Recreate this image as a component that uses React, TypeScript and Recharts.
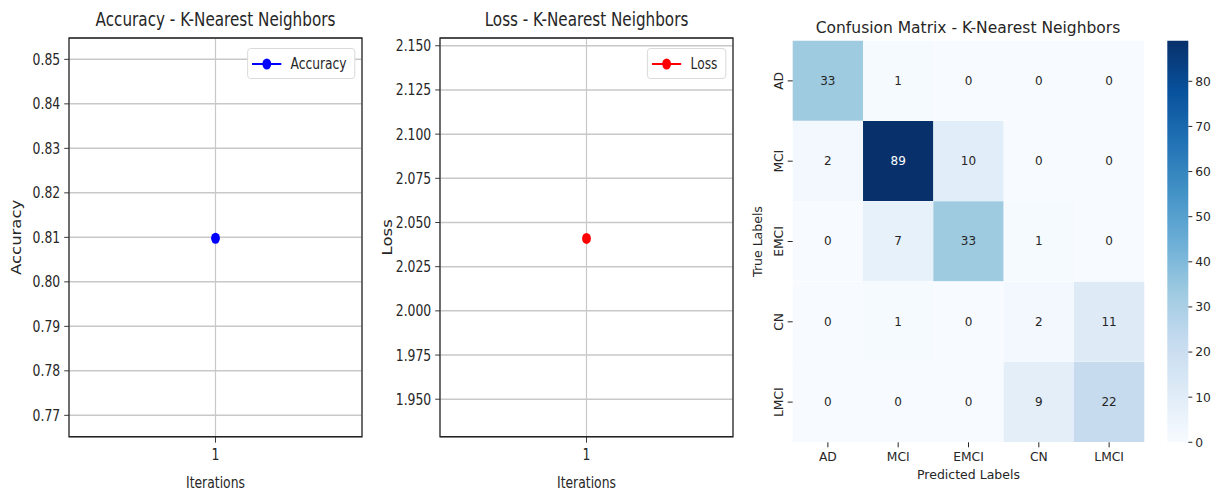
import React from 'react';
import {
    LineChart,
    Line,
    XAxis,
    YAxis,
    CartesianGrid,
    ReferenceArea,
    Legend,
    BarChart,
    Bar,
    Cell,
    LabelList,
} from 'recharts';

// ---- data ----
const iterations = [1];
const accuracyValues = [0.8098];
const lossValues = [2.041];
const accuracyTicks = [0.77, 0.78, 0.79, 0.8, 0.81, 0.82, 0.83, 0.84, 0.85];
const lossTicks = [1.95, 1.975, 2.0, 2.025, 2.05, 2.075, 2.1, 2.125, 2.15];
const accuracyDomain = [0.7652, 0.8548];
const lossDomain = [1.9288, 2.1544];
const iterationDomain = [0.945, 1.055];

const trueLabels = ['AD', 'MCI', 'EMCI', 'CN', 'LMCI'];
const predictedLabels = ['AD', 'MCI', 'EMCI', 'CN', 'LMCI'];
const confusionMatrix = [
    [33, 1, 0, 0, 0],
    [2, 89, 10, 0, 0],
    [0, 7, 33, 1, 0],
    [0, 1, 0, 2, 11],
    [0, 0, 0, 9, 22],
];
const colorbarTicks = [0, 10, 20, 30, 40, 50, 60, 70, 80];

// matplotlib "Blues"
const BLUES = ['#f7fbff', '#deebf7', '#c6dbef', '#9ecae1', '#6baed6', '#4292c6', '#2171b5', '#08519c', '#08306b'];

const hexToRgb = (h: string) => [1, 3, 5].map((i) => parseInt(h.slice(i, i + 2), 16));

const blues = (t: number) => {
    const c = Math.max(0, Math.min(1, t)) * (BLUES.length - 1);
    const lo = Math.min(Math.floor(c), BLUES.length - 2);
    const f = c - lo;
    const a = hexToRgb(BLUES[lo]);
    const b = hexToRgb(BLUES[lo + 1]);
    const rgb = a.map((v, k) => Math.round(v + (b[k] - v) * f));
    return `rgb(${rgb[0]},${rgb[1]},${rgb[2]})`;
};

const TEXT = '#262626';

// the two metric plots are horizontally squeezed in the source image
const SQUEEZE = 0.8;
const PANEL_W = 462.5;
const PANEL_H = 490;
const PLOT_LEFT = 86.25;
const PLOT_RIGHT_GAP = 10;

const LegendBox = ({ payload }: { payload?: Array<{ value: string; color: string }> }) => {
    const item = payload && payload[0];
    if (!item) return null;
    return (
        <div
            style={{
                boxSizing: 'border-box',
                height: 31,
                display: 'flex',
                alignItems: 'center',
                padding: '0 10px 0 5px',
                border: '1px solid #d6d6d6',
                borderRadius: 4,
                background: '#fff',
            }}
        >
            <svg width={37} height={14}>
                <line x1={0} y1={7} x2={37} y2={7} stroke={item.color} strokeWidth={2} />
                <circle cx={18.5} cy={7} r={5.5} fill={item.color} />
            </svg>
            <span style={{ marginLeft: 11.5, fontSize: 15.3, color: TEXT, whiteSpace: 'nowrap' }}>{item.value}</span>
        </div>
    );
};

interface MetricPanelProps {
    left: number;
    title: string;
    name: string;
    values: number[];
    ticks: number[];
    domain: number[];
    digits: number;
    color: string;
}

function MetricPanel({ left, title, name, values, ticks, domain, digits, color }: MetricPanelProps) {
    const data = iterations.map((it, i) => ({ iter: it, value: values[i] }));
    const plotW = PANEL_W - PLOT_LEFT - PLOT_RIGHT_GAP;
    const tickStyle = { fill: TEXT, fontSize: 15.5 };

    return (
        <div
            style={{
                position: 'absolute',
                left,
                top: 0,
                width: PANEL_W,
                height: PANEL_H,
                transform: `scaleX(${SQUEEZE})`,
                transformOrigin: '0 0',
            }}
        >
            <div
                style={{
                    position: 'absolute',
                    left: PLOT_LEFT,
                    width: plotW,
                    top: 10,
                    textAlign: 'center',
                    fontSize: 19,
                    lineHeight: '19px',
                    color: TEXT,
                    whiteSpace: 'nowrap',
                }}
            >
                {title}
            </div>
            <LineChart
                width={PANEL_W}
                height={PANEL_H}
                data={data}
                margin={{ top: 38, right: PLOT_RIGHT_GAP, bottom: 0, left: 0 }}
            >
                <CartesianGrid stroke="#c8c8c8" strokeWidth={1.5} />
                <XAxis
                    dataKey="iter"
                    type="number"
                    domain={iterationDomain}
                    ticks={iterations}
                    height={53.3}
                    axisLine={false}
                    tickSize={6}
                    tickMargin={6}
                    tick={tickStyle}
                    tickLine={{ stroke: TEXT }}
                    label={{ value: 'Iterations', position: 'insideBottom', offset: 2, fill: TEXT, fontSize: 15.5 }}
                />
                <YAxis
                    type="number"
                    domain={domain}
                    ticks={ticks}
                    width={PLOT_LEFT}
                    axisLine={false}
                    tickSize={6}
                    tickMargin={5}
                    tick={tickStyle}
                    tickLine={{ stroke: TEXT }}
                    tickFormatter={(v: number) => v.toFixed(digits)}
                    label={{
                        value: name,
                        angle: -90,
                        position: 'insideLeft',
                        offset: 21,
                        textAnchor: 'middle',
                        fill: TEXT,
                        fontSize: 16.5,
                    }}
                />
                <ReferenceArea
                    x1={iterationDomain[0]}
                    x2={iterationDomain[1]}
                    y1={domain[0]}
                    y2={domain[1]}
                    fill="none"
                    fillOpacity={0}
                    stroke="#222"
                    strokeWidth={1.5}
                    ifOverflow="visible"
                />
                <Legend
                    layout="horizontal"
                    align="center"
                    verticalAlign="middle"
                    wrapperStyle={{ top: 48, right: 18.5, left: 'auto', width: 'auto' }}
                    content={(props: any) => <LegendBox payload={props.payload} />}
                />
                <Line
                    dataKey="value"
                    name={name}
                    stroke={color}
                    strokeWidth={2}
                    dot={{ r: 5.5, fill: color, stroke: color, strokeWidth: 0 }}
                    isAnimationActive={false}
                />
            </LineChart>
        </div>
    );
}

const vmax = Math.max(...confusionMatrix.flat());

const cellRows = trueLabels.map((label, i) => {
    const row: Record<string, string | number> = { name: label };
    predictedLabels.forEach((_, j) => {
        row[`u${j}`] = 1;
        row[`c${j}`] = confusionMatrix[i][j];
    });
    return row;
});

const colorbarData = [{ name: 'count', value: vmax }];

const renderCellLabel = (props: any) => {
    const vb = props.viewBox || props;
    const { x, y, width, height } = vb;
    const value = Number(props.value);
    return (
        <text
            x={x + width / 2}
            y={y + height / 2}
            textAnchor="middle"
            dominantBaseline="central"
            fontSize={12}
            fill={value / vmax > 0.6 ? '#ffffff' : TEXT}
        >
            {value}
        </text>
    );
};

const RotatedTick = (props: any) => {
    const { x, y, payload } = props;
    const cx = x - 6.4;
    return (
        <text
            x={cx}
            y={y}
            transform={`rotate(-90, ${cx}, ${y})`}
            textAnchor="middle"
            dominantBaseline="central"
            fontSize={12.3}
            fill={TEXT}
        >
            {payload.value}
        </text>
    );
};

function ConfusionPanel() {
    return (
        <>
            <div
                style={{
                    position: 'absolute',
                    left: 768,
                    width: 400,
                    top: 21,
                    textAlign: 'center',
                    fontSize: 15.5,
                    lineHeight: '15.5px',
                    color: TEXT,
                    whiteSpace: 'nowrap',
                }}
            >
                Confusion Matrix - K-Nearest Neighbors
            </div>
            <div style={{ position: 'absolute', left: 740, top: 0 }}>
                <BarChart
                    layout="vertical"
                    width={420}
                    height={490}
                    data={cellRows}
                    margin={{ top: 40.7, right: 15.7, bottom: 0, left: 0 }}
                    barCategoryGap={0}
                    barGap={0}
                >
                    <XAxis
                        type="number"
                        domain={[0, predictedLabels.length]}
                        ticks={predictedLabels.map((_, j) => j + 0.5)}
                        tickFormatter={(v: number) => predictedLabels[Math.floor(v)]}
                        height={47.7}
                        axisLine={false}
                        tickSize={5}
                        tickMargin={5}
                        tick={{ fill: TEXT, fontSize: 12.3 }}
                        tickLine={{ stroke: TEXT }}
                        label={{ value: 'Predicted Labels', position: 'insideBottom', offset: 11.5, fill: TEXT, fontSize: 12.5 }}
                    />
                    <YAxis
                        type="category"
                        dataKey="name"
                        width={52.7}
                        axisLine={false}
                        tickSize={5}
                        tickMargin={2}
                        tick={<RotatedTick />}
                        tickLine={{ stroke: TEXT }}
                        label={{
                            value: 'True Labels',
                            angle: -90,
                            position: 'insideLeft',
                            offset: 18,
                            textAnchor: 'middle',
                            fill: TEXT,
                            fontSize: 12.5,
                        }}
                    />
                    {predictedLabels.map((_, j) => (
                        <Bar key={`col-${j}`} dataKey={`u${j}`} stackId="cm" isAnimationActive={false}>
                            {cellRows.map((_, i) => (
                                <Cell key={`cell-${i}-${j}`} fill={blues(confusionMatrix[i][j] / vmax)} />
                            ))}
                            <LabelList dataKey={`c${j}`} content={renderCellLabel} />
                        </Bar>
                    ))}
                </BarChart>
            </div>
            <div style={{ position: 'absolute', left: 1160, top: 0 }}>
                <BarChart
                    width={60}
                    height={490}
                    data={colorbarData}
                    margin={{ top: 40.7, right: 0, bottom: 47.7, left: 7.3 }}
                    barCategoryGap={0}
                >
                    <defs>
                        <linearGradient id="bluesGradient" x1="0" y1="1" x2="0" y2="0">
                            {BLUES.map((c, k) => (
                                <stop key={c} offset={k / (BLUES.length - 1)} stopColor={c} />
                            ))}
                        </linearGradient>
                    </defs>
                    <XAxis dataKey="name" hide />
                    <YAxis
                        orientation="right"
                        type="number"
                        domain={[0, vmax]}
                        ticks={colorbarTicks}
                        width={31.7}
                        axisLine={false}
                        tickSize={4}
                        tickMargin={3}
                        tick={{ fill: TEXT, fontSize: 12.3 }}
                        tickLine={{ stroke: TEXT }}
                    />
                    <Bar dataKey="value" fill="url(#bluesGradient)" isAnimationActive={false} />
                </BarChart>
            </div>
        </>
    );
}

export default function App() {
    return (
        <div
            style={{
                position: 'absolute',
                left: 0,
                top: 0,
                width: 1220,
                height: 490,
                background: '#fff',
                overflow: 'hidden',
                fontFamily: '"DejaVu Sans", sans-serif',
            }}
        >
            <MetricPanel
                left={0}
                title="Accuracy - K-Nearest Neighbors"
                name="Accuracy"
                values={accuracyValues}
                ticks={accuracyTicks}
                domain={accuracyDomain}
                digits={2}
                color="#0000ff"
            />
            <MetricPanel
                left={371}
                title="Loss - K-Nearest Neighbors"
                name="Loss"
                values={lossValues}
                ticks={lossTicks}
                domain={lossDomain}
                digits={3}
                color="#ff0000"
            />
            <ConfusionPanel />
        </div>
    );
}
